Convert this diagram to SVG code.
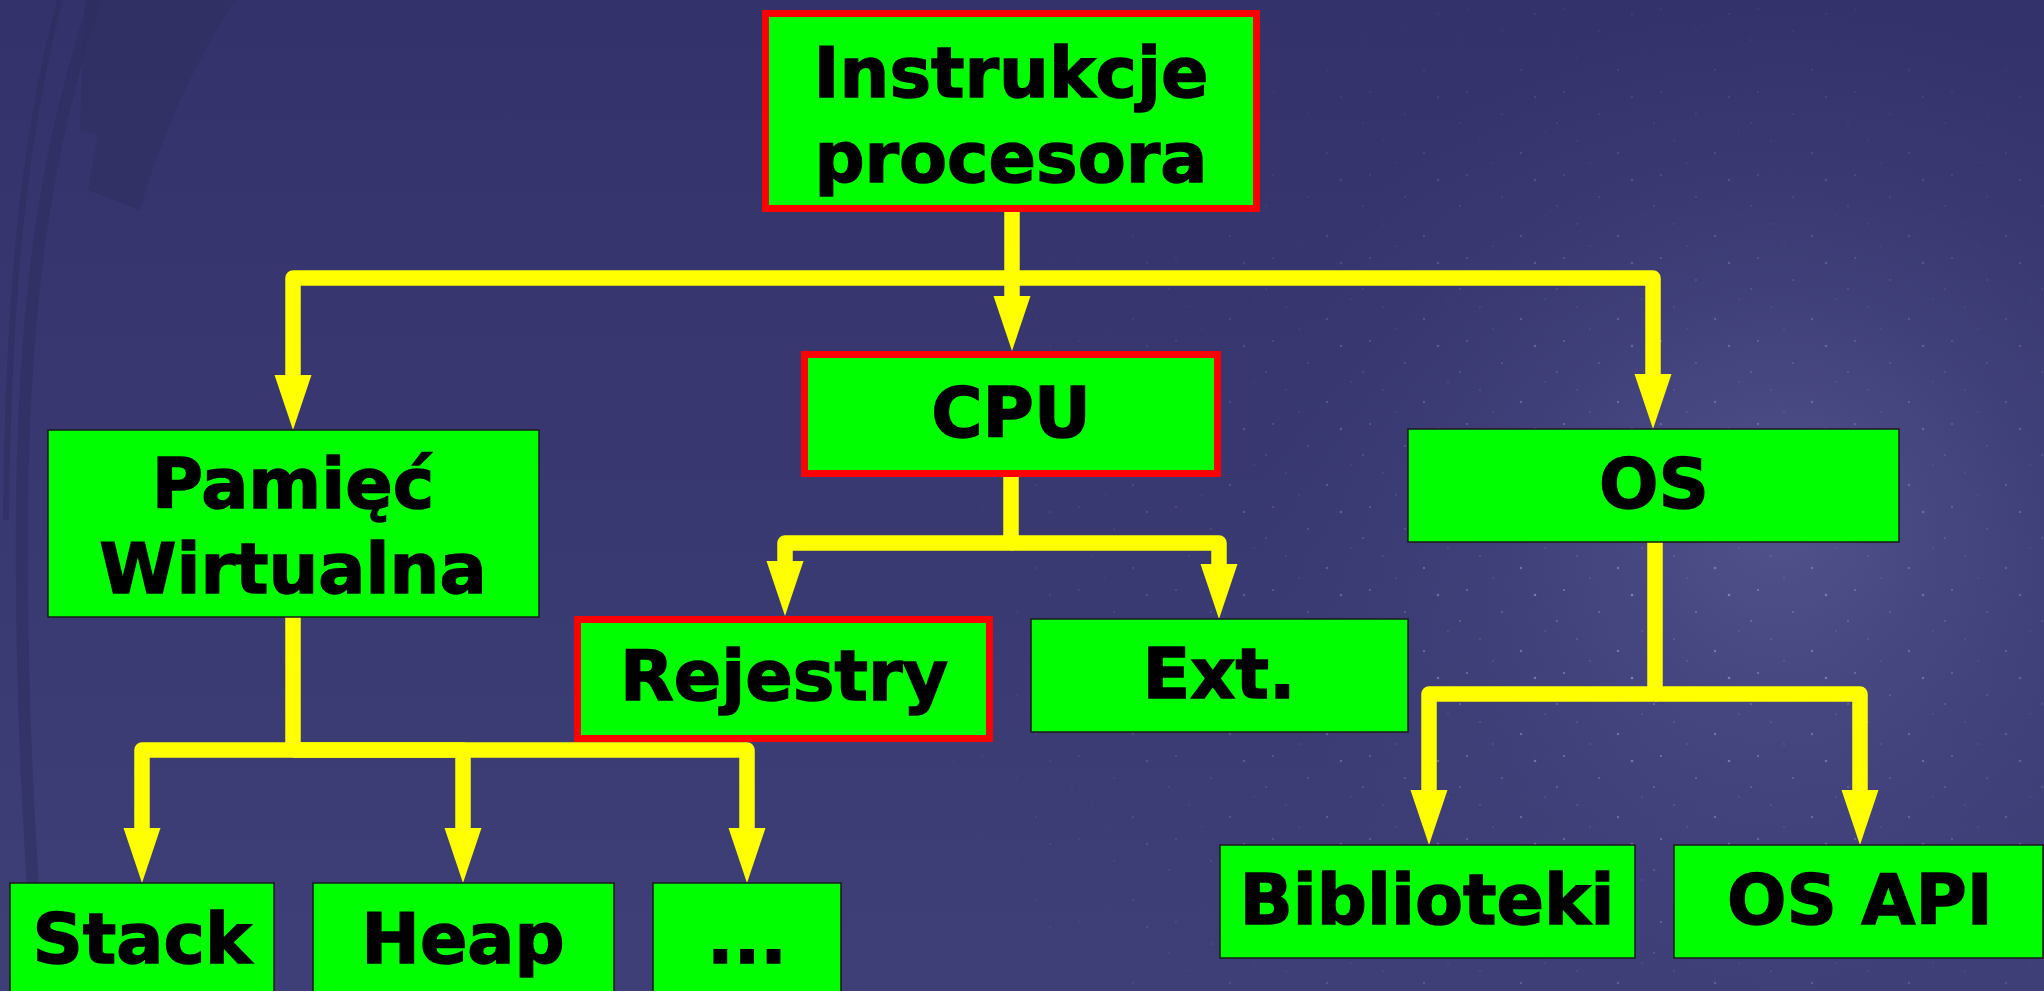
<svg xmlns="http://www.w3.org/2000/svg" width="2044" height="991" viewBox="0 0 2044 991">
<defs>
<linearGradient id="bg" x1="0" y1="0" x2="0" y2="1">
<stop offset="0" stop-color="#33326a"/>
<stop offset="1" stop-color="#3f3f78"/>
</linearGradient>
<radialGradient id="glow" cx="1780" cy="520" r="520" gradientUnits="userSpaceOnUse">
<stop offset="0" stop-color="#6a6aa8" stop-opacity="0.5"/>
<stop offset="0.5" stop-color="#5a5a98" stop-opacity="0.22"/>
<stop offset="1" stop-color="#4a4a88" stop-opacity="0"/>
</radialGradient>
<radialGradient id="starfade" cx="1650" cy="650" r="750" gradientUnits="userSpaceOnUse">
<stop offset="0" stop-color="#fff" stop-opacity="1"/>
<stop offset="1" stop-color="#fff" stop-opacity="0"/>
</radialGradient>
<mask id="starmask"><rect width="2044" height="991" fill="url(#starfade)"/></mask>
<pattern id="stars" width="97" height="83" patternUnits="userSpaceOnUse">
<circle cx="12" cy="9" r="1.1" fill="#c8c8f0"/>
<circle cx="47" cy="31" r="0.9" fill="#b8b8e8"/>
<circle cx="80" cy="14" r="1.3" fill="#d0d0f5"/>
<circle cx="25" cy="58" r="0.8" fill="#b0b0e0"/>
<circle cx="66" cy="70" r="1.2" fill="#c0c0ee"/>
<circle cx="90" cy="50" r="0.7" fill="#a8a8dd"/>
<circle cx="5" cy="40" r="0.9" fill="#b8b8e8"/>
<circle cx="38" cy="80" r="0.7" fill="#b0b0e0"/>
</pattern>
<marker id="ah" markerUnits="userSpaceOnUse" markerWidth="60" markerHeight="40" refX="2" refY="18.5" orient="auto">
<path d="M0,0 L55,18.5 L0,37 Z" fill="#ffff00"/>
</marker>
<style>
.box{fill:#00ff00;stroke:#1a1a1a;stroke-width:1.5}
.rbox{fill:#00ff00;stroke:#ff0000;stroke-width:7}
.t{font-family:"DejaVu Sans","Verdana",sans-serif;font-weight:bold;font-size:70px;fill:#000;stroke:#000;stroke-width:1.5;text-anchor:middle}
.c{fill:none;stroke:#ffff00;stroke-width:15.5;stroke-linejoin:round}
.arc{fill:none;stroke:#2c2b5c;opacity:0.5}
</style>
</defs>

<g id="background">
<rect width="2044" height="991" fill="url(#bg)"/>
<rect width="2044" height="991" fill="url(#glow)"/>
<rect width="2044" height="991" fill="url(#stars)" mask="url(#starmask)" opacity="0.45"/>
<path class="arc" d="M95,0 C45,150 25,300 22,500 C20,700 30,850 40,991" stroke-width="12"/>
<path class="arc" d="M60,0 C20,150 8,320 6,520" stroke-width="6"/>
<path d="M85,0 L235,0 C190,70 160,140 140,210 L88,190 L98,135 L80,130 Z" fill="#2e2d5e" opacity="0.5"/>
</g>

<g id="connectors">
<path class="c" d="M1012,212 V298" marker-end="url(#ah)"/>
<path class="c" d="M1012,278 H293 V377" marker-end="url(#ah)"/>
<path class="c" d="M1012,278 H1653 V376" marker-end="url(#ah)"/>
<path class="c" d="M1011,477 V543 H785 V563" marker-end="url(#ah)"/>
<path class="c" d="M1011,543 H1219 V566" marker-end="url(#ah)"/>
<path class="c" d="M293,617 V750 H142 V830" marker-end="url(#ah)"/>
<path class="c" d="M293,750 H463 V830" marker-end="url(#ah)"/>
<path class="c" d="M293,750 H747 V830" marker-end="url(#ah)"/>
<path class="c" d="M1655,542 V694 H1429 V792" marker-end="url(#ah)"/>
<path class="c" d="M1655,694 H1860 V792" marker-end="url(#ah)"/>
</g>

<g id="node-instrukcje">
<rect class="rbox" x="765.5" y="13.5" width="491" height="195"/>
<text class="t" x="1011" y="97">Instrukcje</text>
<text class="t" x="1011" y="182">procesora</text>
</g>
<g id="node-cpu">
<rect class="rbox" x="804.5" y="354.5" width="413" height="119"/>
<text class="t" x="1011" y="437">CPU</text>
</g>
<g id="node-pamiec">
<rect class="box" x="48" y="430" width="491" height="187"/>
<text class="t" x="293" y="508">Pamięć</text>
<text class="t" x="293" y="593">Wirtualna</text>
</g>
<g id="node-os">
<rect class="box" x="1408" y="429" width="491" height="113"/>
<text class="t" x="1654" y="508">OS</text>
</g>
<g id="node-rejestry">
<rect class="rbox" x="577.5" y="619.5" width="412" height="119"/>
<text class="t" x="784" y="700">Rejestry</text>
</g>
<g id="node-ext">
<rect class="box" x="1031" y="619" width="377" height="113"/>
<text class="t" x="1219" y="698">Ext.</text>
</g>
<g id="node-stack">
<rect class="box" x="10" y="883" width="264" height="115"/>
<text class="t" x="142" y="963">Stack</text>
</g>
<g id="node-heap">
<rect class="box" x="313" y="883" width="301" height="115"/>
<text class="t" x="463" y="963">Heap</text>
</g>
<g id="node-more">
<rect class="box" x="653" y="883" width="188" height="115"/>
<text class="t" x="747" y="963">...</text>
</g>
<g id="node-biblioteki">
<rect class="box" x="1220" y="845" width="415" height="113"/>
<text class="t" x="1427" y="924">Biblioteki</text>
</g>
<g id="node-osapi">
<rect class="box" x="1674" y="845" width="369" height="113"/>
<text class="t" x="1860" y="924">OS API</text>
</g>
</svg>
